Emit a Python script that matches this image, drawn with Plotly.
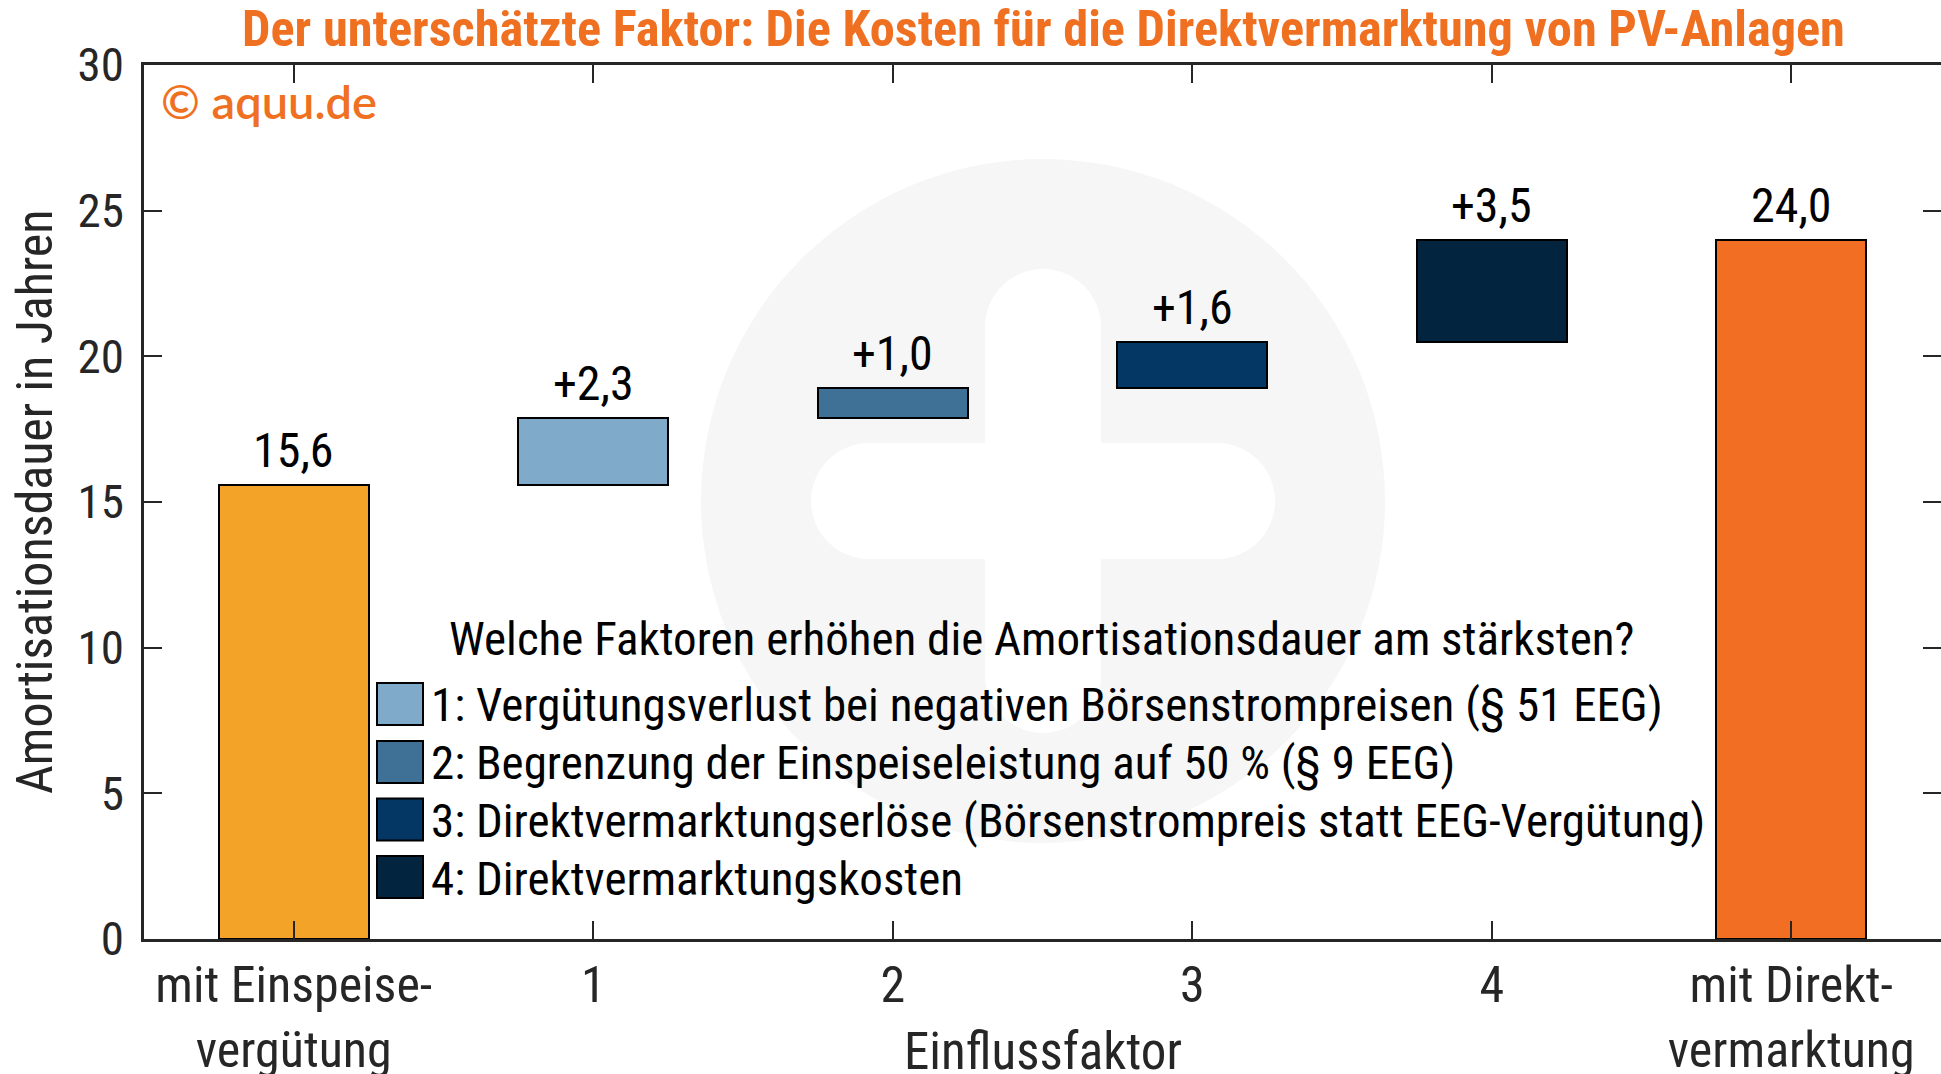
import plotly.graph_objects as go

# ---------------- data ----------------
categories = ["mit Einspeise-<br>vergütung", "1", "2", "3", "4", "mit Direkt-<br>vermarktung"]
start_value = 15.6
increments = [2.3, 1.0, 1.6, 3.5]
total_value = 24.0
bar_colors = ["#F3A327", "#7FAAC9", "#3F7196", "#053764", "#03243F", "#F26E23"]
legend_title = "Welche Faktoren erhöhen die Amortisationsdauer am stärksten?"
legend_labels = [
    "1: Vergütungsverlust bei negativen Börsenstrompreisen (§ 51 EEG)",
    "2: Begrenzung der Einspeiseleistung auf 50 % (§ 9 EEG)",
    "3: Direktvermarktungserlöse (Börsenstrompreis statt EEG-Vergütung)",
    "4: Direktvermarktungskosten",
]
y_ticks = [0, 5, 10, 15, 20, 25, 30]
title_text = "Der unterschätzte Faktor: Die Kosten für die Direktvermarktung von PV-Anlagen"
x_title = "Einflussfaktor"
y_title = "Amortisationsdauer in Jahren"
copyright_text = "© aquu.de"

# ---------------- derived ----------------
heights = [start_value] + increments + [total_value]
bases = [0.0]
run = start_value
for inc in increments:
    bases.append(round(run, 2))
    run += inc
bases.append(0.0)
labels = [f"{start_value:.1f}".replace(".", ",")] + \
         [("+" + f"{v:.1f}").replace(".", ",") for v in increments] + \
         [f"{total_value:.1f}".replace(".", ",")]
xs = list(range(len(categories)))

# ---------------- geometry (pixels) ----------------
FW, FH = 1941, 1074
L, R, T, B = 144, 0, 65, 135
PW, PH = FW - L - R, FH - T - B
PB = FH - B


def px(X):
    return (X - L) / PW


def py(Y):
    return (PB - Y) / PH


FONT = "Liberation Sans Narrow, Roboto Condensed, Arial Narrow, DejaVu Sans Condensed, Roboto, sans-serif"
DARK = "#262626"
ORANGE = "#F07022"
FS = 47

fig = go.Figure()
fig.add_trace(go.Bar(
    x=xs, y=heights, base=bases, width=0.5,
    marker=dict(color=bar_colors, line=dict(color="#000000", width=2)),
    showlegend=False, hoverinfo="skip",
))
fig.add_trace(go.Scatter(x=[0], y=[0], yaxis="y2", mode="markers",
                         marker=dict(opacity=0), showlegend=False, hoverinfo="skip"))

shapes = []
# watermark: light circle with white rounded plus
cx, cy, rad = 1043, 501, 342
shapes.append(dict(type="circle", xref="paper", yref="paper", layer="below",
                   x0=px(cx - rad), x1=px(cx + rad), y0=py(cy + rad), y1=py(cy - rad),
                   fillcolor="#F6F6F6", line=dict(width=0)))
arm, half = 58, 232
shapes.append(dict(type="rect", xref="paper", yref="paper", layer="below",
                   x0=px(cx - half + arm), x1=px(cx + half - arm), y0=py(cy + arm), y1=py(cy - arm),
                   fillcolor="white", line=dict(width=0)))
shapes.append(dict(type="rect", xref="paper", yref="paper", layer="below",
                   x0=px(cx - arm), x1=px(cx + arm), y0=py(cy + half - arm), y1=py(cy - half + arm),
                   fillcolor="white", line=dict(width=0)))
for (ex, ey) in [(cx - half + arm, cy), (cx + half - arm, cy), (cx, cy - half + arm), (cx, cy + half - arm)]:
    shapes.append(dict(type="circle", xref="paper", yref="paper", layer="below",
                       x0=px(ex - arm), x1=px(ex + arm), y0=py(ey + arm), y1=py(ey - arm),
                       fillcolor="white", line=dict(width=0)))

annotations = []
# value labels
for x, b, h, lab in zip(xs, bases, heights, labels):
    annotations.append(dict(x=x, y=b + h, xref="x", yref="y", text=lab, showarrow=False,
                            yanchor="bottom", yshift=4,
                            font=dict(family=FONT, size=48, color="#000000")))

# custom legend
annotations.append(dict(x=px(1041), y=py(638), xref="paper", yref="paper", text=legend_title,
                        showarrow=False, xanchor="center", yanchor="middle",
                        font=dict(family=FONT, size=FS, color="#000000")))
row_y = [704, 762, 819.5, 877]
for i, (lab, yy) in enumerate(zip(legend_labels, row_y)):
    shapes.append(dict(type="rect", xref="paper", yref="paper", layer="above",
                       x0=px(377), x1=px(423), y0=py(yy + 21), y1=py(yy - 21),
                       fillcolor=bar_colors[i + 1], line=dict(color="#000000", width=2)))
    annotations.append(dict(x=px(429), y=py(yy + 1), xref="paper", yref="paper", text=lab,
                            showarrow=False, xanchor="left", yanchor="middle",
                            font=dict(family=FONT, size=FS, color="#000000")))

# titles
annotations.append(dict(x=px(1043), y=py(28), xref="paper", yref="paper", text=f"<b>{title_text}</b>",
                        showarrow=False, xanchor="center", yanchor="middle",
                        font=dict(family=FONT, size=50.4, color=ORANGE)))
annotations.append(dict(x=px(159), y=py(101), xref="paper", yref="paper", text=copyright_text,
                        showarrow=False, xanchor="left", yanchor="middle",
                        font=dict(family="Lato, sans-serif", size=47, color=ORANGE, weight=600)))
annotations.append(dict(x=px(35), y=py(502), xref="paper", yref="paper", text=y_title,
                        showarrow=False, xanchor="center", yanchor="middle", textangle=-90,
                        font=dict(family=FONT, size=50, color=DARK)))
annotations.append(dict(x=px(1043), y=py(1051), xref="paper", yref="paper", text=x_title,
                        showarrow=False, xanchor="center", yanchor="middle",
                        font=dict(family=FONT, size=51, color=DARK)))

fig.update_layout(
    width=FW, height=FH,
    margin=dict(l=L, r=R, t=T, b=B, pad=0, autoexpand=False),
    paper_bgcolor="white", plot_bgcolor="white",
    showlegend=False,
    bargap=0,
    shapes=shapes, annotations=annotations,
    xaxis=dict(range=[-0.5, 5.5], tickvals=xs, ticktext=categories, automargin=False,
               ticks="inside", ticklen=18, tickwidth=1.5, tickcolor=DARK,
               showline=True, linecolor=DARK, linewidth=2.5, mirror="ticks",
               showgrid=False, zeroline=False, ticklabelstandoff=0,
               tickfont=dict(family=FONT, size=50, color=DARK)),
    yaxis=dict(range=[0, 30], tickvals=y_ticks, ticks="inside", ticklen=18, tickwidth=1.5,
               tickcolor=DARK, showline=True, linecolor=DARK, linewidth=2.5, automargin=False,
               showgrid=False, zeroline=False, ticklabelstandoff=8,
               tickfont=dict(family=FONT, size=FS, color=DARK)),
    yaxis2=dict(range=[0, 30], tickvals=y_ticks, overlaying="y", side="right", anchor="x",
                ticks="inside", ticklen=18, tickwidth=1.5, tickcolor=DARK, automargin=False,
                showline=False, showgrid=False, zeroline=False, showticklabels=False),
)

fig.write_html("out.html", config={"displayModeBar": False},
               post_script="document.body.style.margin='0px';")
